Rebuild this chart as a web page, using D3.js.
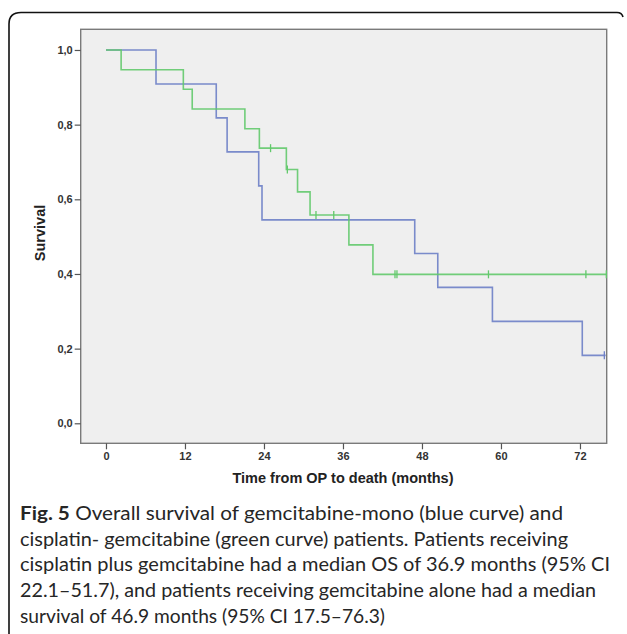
<!DOCTYPE html>
<html>
<head>
<meta charset="utf-8">
<script src="https://cdn.jsdelivr.net/npm/d3@7"></script>
<style>
  html, body { margin: 0; padding: 0; background: #ffffff; }
  svg { display: block; }
</style>
</head>
<body>
<svg id="chart" width="627" height="634"></svg>
<script>
// ---- data ----
const xTicks = [0, 12, 24, 36, 48, 60, 72];
const yTicks = [0, 0.2, 0.4, 0.6, 0.8, 1.0];

// gemcitabine-mono (blue): step start times and survival after each step
const blueTimes = [0, 7.6, 16.75, 18.4, 23.2, 23.7, 46.9, 50.4, 58.7, 72.35];
const blueSurv  = [1.0, 0.909, 0.818, 0.727, 0.636, 0.545, 0.455, 0.364, 0.273, 0.182];
const blueCensor = [75.7];
const blueEnd = 75.9;

// cisplatin-gemcitabine (green)
const greenTimes = [0, 2.3, 11.75, 13.1, 21.1, 23.3, 27.4, 29.1, 31.0, 36.9, 40.55];
const greenSurv  = [1.0, 0.947, 0.895, 0.842, 0.789, 0.737, 0.680, 0.620, 0.558, 0.478, 0.399];
const greenCensor = [25.0, 27.55, 31.9, 34.6, 43.9, 44.2, 58.1, 72.9, 76.0];
const greenEnd = 76.0;

const captionLines = [
  {bold: "Fig. 5", text: " Overall survival of gemcitabine-mono (blue curve) and", width: 543},
  {bold: "", text: "cisplatin- gemcitabine (green curve) patients. Patients receiving", width: 548},
  {bold: "", text: "cisplatin plus gemcitabine had a median OS of 36.9 months (95% CI", width: 590},
  {bold: "", text: "22.1–51.7), and patients receiving gemcitabine alone had a median", width: 576},
  {bold: "", text: "survival of 46.9 months (95% CI 17.5–76.3)", width: 365}
];

// ---- layout ----
const svg = d3.select("#chart");
const plot = {left: 80.7, right: 606.7, top: 29.3, bottom: 443.3};

const x = d3.scaleLinear().domain([-3.84, 76.06]).range([plot.left, plot.right]);
const y = d3.scaleLinear().domain([-0.0536, 1.0554]).range([plot.bottom, plot.top]);

// outer frame (rounded, cut by image edges)
svg.append("path")
  .attr("d", "M9,640 L9,24 Q9,12.5 21,12.5 L617,12.5 Q622,12.5 623,17")
  .attr("fill", "none").attr("stroke", "#111").attr("stroke-width", 1.6);

// plot background
svg.append("rect")
  .attr("x", plot.left).attr("y", plot.top)
  .attr("width", plot.right - plot.left).attr("height", plot.bottom - plot.top)
  .attr("fill", "#efefef").attr("stroke", "#7a7a7a").attr("stroke-width", 1.4);

// axes
const tickFont = "'Liberation Sans', Arial, sans-serif";
const yAxis = d3.axisLeft(y).tickValues(yTicks).tickSize(6).tickPadding(2)
  .tickFormat(d => d3.format(".1f")(d).replace(".", ","));
const gy = svg.append("g").attr("transform", `translate(${plot.left},0)`).call(yAxis);
gy.select(".domain").remove();
gy.selectAll("line").attr("stroke", "#555").attr("stroke-width", 1.2);
gy.selectAll("text").attr("font-family", tickFont).attr("font-weight", "bold")
  .attr("font-size", 11).attr("fill", "#333");

const xAxis = d3.axisBottom(x).tickValues(xTicks).tickSize(6).tickPadding(3);
const gx = svg.append("g").attr("transform", `translate(0,${plot.bottom})`).call(xAxis);
gx.select(".domain").remove();
gx.selectAll("line").attr("stroke", "#555").attr("stroke-width", 1.2);
gx.selectAll("text").attr("font-family", tickFont).attr("font-weight", "bold")
  .attr("font-size", 11).attr("fill", "#333");

// axis titles
svg.append("text")
  .attr("x", 343).attr("y", 483)
  .attr("text-anchor", "middle")
  .attr("font-family", tickFont).attr("font-weight", "bold").attr("font-size", 14.5)
  .attr("fill", "#222")
  .text("Time from OP to death (months)");

svg.append("text")
  .attr("transform", `translate(45,233) rotate(-90)`)
  .attr("text-anchor", "middle")
  .attr("font-family", tickFont).attr("font-weight", "bold").attr("font-size", 14.5)
  .attr("fill", "#222")
  .text("Survival");

// survival curves
function stepPath(times, surv, end) {
  const pts = [];
  for (let i = 0; i < times.length; i++) {
    if (i > 0) pts.push([times[i], surv[i - 1]]);
    pts.push([times[i], surv[i]]);
  }
  pts.push([end, surv[surv.length - 1]]);
  return d3.line().x(d => x(d[0])).y(d => y(d[1]))(pts);
}
function survAt(times, surv, t) {
  let s = surv[0];
  for (let i = 0; i < times.length; i++) if (times[i] <= t) s = surv[i];
  return s;
}
function drawCurve(times, surv, end, censor, color) {
  const g = svg.append("g");
  g.append("path").attr("d", stepPath(times, surv, end))
    .attr("fill", "none").attr("stroke", color).attr("stroke-width", 1.6)
    .attr("stroke-opacity", 0.9);
  g.selectAll("line.c").data(censor).enter().append("line")
    .attr("x1", d => x(d)).attr("x2", d => x(d))
    .attr("y1", d => y(survAt(times, surv, d)) - 4)
    .attr("y2", d => y(survAt(times, surv, d)) + 4)
    .attr("stroke", color).attr("stroke-width", 1.3);
}
drawCurve(blueTimes, blueSurv, blueEnd, blueCensor, "#6d7fc6");
drawCurve(greenTimes, greenSurv, greenEnd, greenCensor, "#62c96b");

// caption
const cap = svg.append("g");
captionLines.forEach((ln, i) => {
  const t = cap.append("text")
    .attr("x", 20).attr("y", 520 + i * 25.7)
    .attr("font-family", "Lato, 'Open Sans', sans-serif")
    .attr("font-size", 19.5).attr("fill", "#262626")
    .attr("textLength", ln.width).attr("lengthAdjust", "spacingAndGlyphs");
  if (ln.bold) t.append("tspan").attr("font-weight", "bold").text(ln.bold);
  t.append("tspan").text(ln.text);
});
</script>
</body>
</html>
